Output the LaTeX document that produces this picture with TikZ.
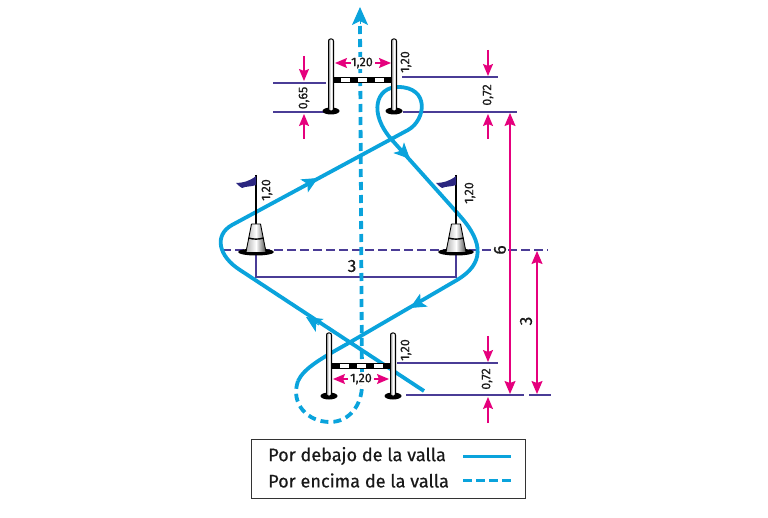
\documentclass[tikz,border=0pt]{standalone}
\usepackage{fontspec}
\setmainfont[RawFeature={embolden=0.5}]{Fira Sans}
\usetikzlibrary{arrows.meta,shapes.geometric}
\definecolor{azul}{HTML}{0AA3DC}
\definecolor{magenta}{HTML}{E5007D}
\definecolor{violeta}{HTML}{4A3C96}
\definecolor{bandera}{HTML}{2B2680}
\begin{document}
\begin{tikzpicture}[x=1pt,y=-1pt]
    \tikzstyle{ruta}=[azul,line width=3.8pt]
    \tikzstyle{salto}=[ruta,dash pattern=on 8pt off 5pt]
    \tikzstyle{punta}=[azul,line width=1pt,-{Stealth[length=16pt,width=15pt,inset=4pt]}]
    \tikzstyle{cota}=[magenta,line width=1.3pt,-{Stealth[length=12pt,width=10pt,inset=2pt]}]
    \tikzstyle{doble}=[magenta,line width=1.3pt,{Stealth[length=13pt,width=11pt,inset=2pt]}-{Stealth[length=13pt,width=11pt,inset=2pt]}]
    \tikzstyle{linea}=[violeta,line width=1.3pt]
    \tikzstyle{medida}=[font=\fontsize{12.5}{13}\selectfont,inner sep=0.5pt,text=black!90]
    \tikzstyle{grande}=[font=\fontsize{17.5}{18}\selectfont,inner sep=0.5pt,text=black!90]
    \tikzstyle{leyenda}=[font=\fontsize{18.1}{19}\selectfont,inner sep=0pt,anchor=west,text=black!90]
    \tikzstyle{poste}=[draw=black,line width=1pt,left color=gray!70,right color=gray!70,middle color=white,rounded corners=2pt]
    \tikzstyle{base}=[fill=black,draw=none,ellipse,minimum width=17pt,minimum height=7pt,inner sep=0pt]
    \useasboundingbox (0,0) rectangle (768,518);

    % lineas de medida
    \draw[linea] (273,83) -- (326,83);
    \draw[linea] (273,112) -- (326,112);
    \draw[linea] (402,77) -- (498,77);
    \draw[linea] (403,112) -- (517,112);
    \draw[linea] (397,363) -- (498,363);
    \draw[linea] (406,395) -- (524,395);
    \draw[linea] (529,395) -- (551,395);
    \draw[linea,dash pattern=on 8.5pt off 4.5pt] (222,250) -- (548,250);
    \draw[linea] (256,254) -- (256,277) -- (456,277) -- (456,254);

    % recorrido
    \coordinate (inicio) at (424,391);
    \coordinate (a1) at (240,270);
    \coordinate (a2) at (232,225);
    \coordinate (a3) at (408,130);
    \coordinate (a4) at (398,87);
    \coordinate (a5) at (392,140);
    \coordinate (a6) at (460,216);
    \coordinate (a7) at (457,280);
    \coordinate (a8) at (347,344);
    \coordinate (a9) at (298,381);
    \coordinate (a10) at (330,422);
    \coordinate (a11) at (362,385);
    \coordinate (salida) at (360,24);
    \coordinate (tope) at (360,7);
    \draw[salto] (a11) -- (salida);
    \draw[ruta] (inicio) -- (a1) .. controls (218,256) and (214,235) .. (a2)
        -- (a3) .. controls (426,120) and (430,87) .. (a4)
        .. controls (376,87) and (368,113) .. (a5) -- (a6)
        .. controls (484,243) and (484,264) .. (a7) -- (a8)
        .. controls (322,358) and (304,368) .. (a9);
    \draw[salto] (a9) .. controls (290,404) and (308,422) .. (a10)
        .. controls (350,422) and (362,404) .. (a11);
    \draw[azul,line width=1pt,-{Stealth[length=18pt,width=16pt,inset=4pt]}] (salida) -- (tope);
    \draw[punta] (319,325) -- (306,317);
    \draw[punta] (304,186) -- (318,178);
    \draw[punta] (398,147) -- (410,159);
    \draw[punta] (424,300) -- (410,308);

    % valla de arriba
    \node[base] (baseA) at (331,111) {};
    \node[base] (baseB) at (394,111) {};
    \draw[poste] (328.5,111) rectangle (333.5,39);
    \draw[poste] (391.5,111) rectangle (396.5,39);
    \draw[black,line width=0.5pt,fill=white] (333.5,77.5) rectangle (391.5,82.5);
    \foreach \x in {333.5,350.3,367.1,383.9}
        \fill[black] (\x,77.5) rectangle (\x+7.6,82.5);

    % valla de abajo
    \node[base] (baseC) at (329,396) {};
    \node[base] (baseD) at (393,396) {};
    \draw[poste] (326.5,396) rectangle (331.5,333);
    \draw[poste] (390.5,396) rectangle (395.5,333);
    \draw[black,line width=0.5pt,fill=white] (331.5,363.5) rectangle (390.5,368.5);
    \foreach \x in {331.5,348.5,365.5,382.5}
        \fill[black] (\x,363.5) rectangle (\x+8,368.5);

    % conos y banderas
    \foreach \x in {256,456}{
        \draw[black,line width=1.2pt] (\x,175) -- (\x,225);
        \fill[bandera] (\x,176) .. controls (\x-6,181) and (\x-13,183) .. (\x-20,183)
            .. controls (\x-17,185) and (\x-17,187) .. (\x-14,188)
            .. controls (\x-10,186) and (\x-5,187) .. (\x,185) -- cycle;
        \fill[black] (\x,252) ellipse (18pt and 3.5pt);
        \shade[left color=gray!60,right color=black!70,middle color=white] (\x-4.5,224) -- (\x+4.5,224) -- (\x+10,252) -- (\x-10,252) -- cycle;
        \draw[black,line width=0.9pt] (\x-4.5,224) -- (\x-10,252) (\x+4.5,224) -- (\x+10,252) (\x-4.5,224) -- (\x+4.5,224);
        \draw[black,line width=1.4pt] (\x-7.5,238) .. controls (\x-3,239.5) and (\x+3,239.5) .. (\x+7.5,238);
    }

    % cotas
    \node[medida,fill=white] (ancho1) at (362,63) {1,20};
    \draw[cota] (351,63) -- (335,63);
    \draw[cota] (375,63) -- (391,63);
    \node[medida,fill=white,inner sep=1pt] (ancho2) at (361,379) {1,20};
    \draw[cota] (348,379) -- (333,379);
    \draw[cota] (374,379) -- (389,379);
    \draw[cota] (304,56) -- (304,81);
    \draw[cota] (304,139) -- (304,114);
    \draw[cota] (488,50) -- (488,76);
    \draw[cota] (488,139) -- (488,114);
    \draw[cota] (488,336) -- (488,362);
    \draw[cota] (488,423) -- (488,397);
    \draw[doble] (510,113) -- (510,394);
    \draw[doble] (537,251) -- (537,394);
    \node[medida,rotate=90] (alto1) at (406,62) {1,20};
    \node[medida,rotate=90] (alto2) at (406,350) {1,20};
    \node[medida,rotate=90] (alto3) at (267,190) {1,20};
    \node[medida,rotate=90] (alto4) at (470,193) {1,20};
    \node[medida,rotate=90] (v1) at (304,98) {0,65};
    \node[medida,rotate=90] (v2) at (488,95) {0,72};
    \node[medida,rotate=90] (v3) at (487,379) {0,72};
    \node[grande] (tres) at (352,266) {3};
    \node[grande,rotate=90,fill=white] (seis) at (500,250) {6};
    \node[grande,rotate=90] (tres2) at (526,321) {3};

    % leyenda
    \node[draw=black!80,line width=1pt,minimum width=274pt,minimum height=59pt,inner sep=0pt] (caja) at (388,468.5) {};
    \node[leyenda] (debajo) at (268,456) {Por debajo de la valla};
    \node[leyenda] (encima) at (268,480.5) {Por encima de la valla};
    \coordinate (d1) at (463,456.5);
    \coordinate (d2) at (511,456.5);
    \coordinate (e1) at (463,480.5);
    \coordinate (e2) at (511,480.5);
    \draw[ruta,line width=3pt] (d1) -- (d2);
    \draw[ruta,line width=3pt,dash pattern=on 9pt off 4pt] (e1) -- (e2);
\end{tikzpicture}
\end{document}
